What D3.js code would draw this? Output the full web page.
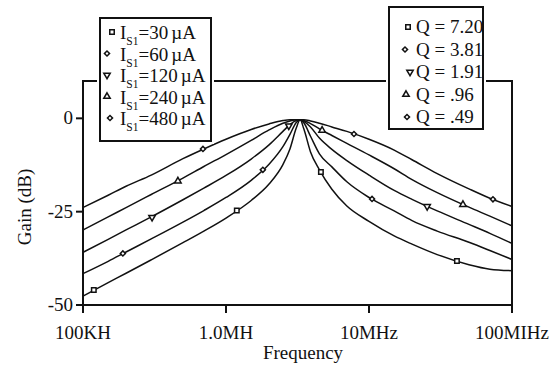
<!DOCTYPE html>
<html>
<head>
<meta charset="utf-8">
<script src="https://cdn.jsdelivr.net/npm/d3@7"></script>
<style>
  html, body { margin: 0; padding: 0; background: #fff; }
  svg { display: block; font-family: 'Liberation Serif', 'Times New Roman', serif; }
</style>
</head>
<body>
<div id="chart"></div>
<script>
// frequency grid (Hz) shared by all curves
const freqHz = [1e5, 1.5e5, 2e5, 3e5, 5e5, 7e5, 1e6, 1.5e6, 2e6, 2.5e6, 2.8e6, 3.1e6, 3.3e6,
  3.5e6, 3.9e6, 4.5e6, 5.5e6, 7e6, 1e7, 1.5e7, 2e7, 3e7, 5e7, 7e7, 1e8];

// gain (dB), one array per Q
const gainQ720 = [-47.6, -44.0, -41.5, -37.9, -33.3, -30.2, -26.7, -22.0, -17.6, -12.4, -8.2, -2.6, -0.4,
  -2.8, -9.0, -13.8, -19.0, -23.5, -27.6, -31.5, -33.7, -36.5, -39.2, -40.4, -40.8];
const gainQ381 = [-41.6, -38.3, -35.8, -32.3, -27.8, -24.7, -21.2, -16.6, -12.3, -7.6, -4.3, -1.1, -0.4,
  -1.2, -4.8, -9.5, -13.0, -17.0, -21.2, -24.8, -27.4, -30.2, -33.2, -35.4, -37.8];
const gainQ191 = [-35.9, -32.4, -29.9, -26.4, -21.8, -18.7, -15.3, -10.9, -7.1, -3.5, -1.7, -0.6, -0.4,
  -0.8, -2.3, -5.3, -8.3, -11.3, -15.2, -19.3, -21.7, -24.8, -28.4, -30.8, -33.5];
const gainQ096 = [-29.9, -26.4, -23.9, -20.4, -16.0, -12.9, -9.7, -5.9, -3.1, -1.3, -0.7, -0.4, -0.4,
  -0.6, -1.4, -2.8, -4.6, -6.7, -9.8, -13.5, -16.4, -19.9, -23.8, -26.2, -28.8];
const gainQ049 = [-23.9, -20.6, -18.2, -15.2, -10.8, -8.2, -5.6, -3.0, -1.5, -0.6, -0.4, -0.4, -0.4,
  -0.4, -0.7, -1.3, -2.3, -3.5, -5.6, -8.5, -11.1, -14.8, -18.9, -21.4, -23.6];

// symbol markers sitting on each curve
const markFreqQ720 = [1.19e5, 1.19e6, 4.61e6, 4.12e7];
const markGainQ720 = [-46.0, -24.7, -14.4, -38.2];
const markFreqQ381 = [1.9e5, 1.81e6, 1.05e7];
const markGainQ381 = [-36.2, -13.8, -21.6];
const markFreqQ191 = [3.04e5, 2.75e6, 2.55e7];
const markGainQ191 = [-26.5, -2.0, -23.6];
const markFreqQ096 = [4.61e5, 4.7e6, 4.54e7];
const markGainQ096 = [-16.8, -3.2, -23.1];
const markFreqQ049 = [6.9e5, 7.85e6, 7.36e7];
const markGainQ049 = [-8.2, -4.2, -21.7];

const qLabels = ['Q = 7.20', 'Q = 3.81', 'Q = 1.91', 'Q = .96', 'Q = .49'];
const currentLabels = ['=30', '=60', '=120', '=240', '=480'];
const markerShapes = ['square', 'diamond', 'triDown', 'triUp', 'diamond'];

const yTicks = [0, -25, -50];
const xTicks = [1e5, 1e6, 1e7, 1e8];
const xTickLabels = ['100KH', '1.0MH', '10MHz', '100MIHz'];

const W = 555, H = 365;
const plot = { left: 83, right: 512, top: 81, bottom: 305 };

const series = [
  { gain: gainQ720, mf: markFreqQ720, mg: markGainQ720 },
  { gain: gainQ381, mf: markFreqQ381, mg: markGainQ381 },
  { gain: gainQ191, mf: markFreqQ191, mg: markGainQ191 },
  { gain: gainQ096, mf: markFreqQ096, mg: markGainQ096 },
  { gain: gainQ049, mf: markFreqQ049, mg: markGainQ049 },
].map((s, i) => ({ ...s, shape: markerShapes[i] }));

const x = d3.scaleLog().domain([1e5, 1e8]).range([plot.left, plot.right]);
const y = d3.scaleLinear().domain([-50, 10]).range([plot.bottom, plot.top]);

const svg = d3.select('#chart').append('svg')
  .attr('width', W).attr('height', H);

const ink = '#111';

// marker symbol helper (diamond = small square turned 45deg)
const symbolPath = (shape) => {
  if (shape === 'square') return d3.symbol(d3.symbolSquare, 20)();
  if (shape === 'diamond') return d3.symbol(d3.symbolSquare, 13)();
  return d3.symbol(d3.symbolTriangle, 18)();
};
const drawMarker = (g, shape, cx, cy) => {
  let rot = '';
  if (shape === 'triDown') rot = ' rotate(180)';
  if (shape === 'diamond') rot = ' rotate(45)';
  g.append('path')
    .attr('d', symbolPath(shape))
    .attr('transform', `translate(${cx},${cy})` + rot)
    .attr('fill', '#fff')
    .attr('stroke', ink)
    .attr('stroke-width', 1.5);
};

// frame
svg.append('rect')
  .attr('x', plot.left).attr('y', plot.top)
  .attr('width', plot.right - plot.left).attr('height', plot.bottom - plot.top)
  .attr('fill', 'none').attr('stroke', ink).attr('stroke-width', 2);

// y ticks
const yAxis = svg.append('g');
yTicks.forEach(t => {
  yAxis.append('line')
    .attr('x1', plot.left - 7).attr('x2', plot.left)
    .attr('y1', y(t)).attr('y2', y(t))
    .attr('stroke', ink).attr('stroke-width', 2);
  yAxis.append('text')
    .attr('x', plot.left - 10).attr('y', y(t)).attr('dy', '0.32em')
    .attr('text-anchor', 'end').style('font-size', '19px').attr('fill', ink)
    .text(t);
});

// x ticks
const xAxis = svg.append('g');
xTicks.forEach((t, i) => {
  xAxis.append('line')
    .attr('x1', x(t)).attr('x2', x(t))
    .attr('y1', plot.bottom).attr('y2', plot.bottom + 8)
    .attr('stroke', ink).attr('stroke-width', 2);
  xAxis.append('text')
    .attr('x', x(t)).attr('y', 339)
    .attr('text-anchor', 'middle').style('font-size', '19px').attr('fill', ink)
    .text(xTickLabels[i]);
});

// axis titles
svg.append('text')
  .attr('x', 303).attr('y', 359)
  .attr('text-anchor', 'middle').style('font-size', '19px').attr('fill', ink)
  .text('Frequency');
svg.append('text')
  .attr('transform', 'translate(31,207) rotate(-90)')
  .attr('text-anchor', 'middle').style('font-size', '19px').attr('fill', ink)
  .text('Gain (dB)');

// curves
const line = d3.line()
  .x(d => x(d[0]))
  .y(d => y(d[1]))
  .curve(d3.curveMonotoneX);

const curves = svg.append('g');
series.forEach(s => {
  curves.append('path')
    .attr('d', line(freqHz.map((f, i) => [f, s.gain[i]])))
    .attr('fill', 'none').attr('stroke', ink).attr('stroke-width', 1.5);
});

const marks = svg.append('g');
series.forEach(s => {
  s.mf.forEach((f, i) => drawMarker(marks, s.shape, x(f), y(s.mg[i])));
});

// legend boxes, white halo cuts the top frame line
const legendBox = (bx, by, bw, bh) => {
  const g = svg.append('g');
  g.append('rect').attr('x', bx - 3).attr('y', by - 3)
    .attr('width', bw + 6).attr('height', bh + 6).attr('fill', '#fff');
  g.append('rect').attr('x', bx).attr('y', by)
    .attr('width', bw).attr('height', bh)
    .attr('fill', '#fff').attr('stroke', ink).attr('stroke-width', 2);
  return g;
};

// left legend: bias currents
const leg1 = legendBox(100, 18, 111, 123);
const leg1MarkX = [112, 107, 107, 107, 110];
currentLabels.forEach((lab, i) => {
  const base = 39 + i * 21.5;
  drawMarker(leg1, markerShapes[i], leg1MarkX[i], base - 7);
  const t = leg1.append('text')
    .attr('x', 120).attr('y', base)
    .style('font-size', '19px').attr('fill', ink);
  t.append('tspan').text('I');
  t.append('tspan').attr('dy', 6).style('font-size', '11.5px').text('S1');
  t.append('tspan').attr('dy', -6).text(lab);
  t.append('tspan').attr('dx', 3).text('µA');
});

// right legend: Q values
const leg2 = legendBox(389, 7, 94, 122);
const leg2MarkX = [408, 405, 410, 406, 407];
qLabels.forEach((lab, i) => {
  const base = 33 + i * 22.5;
  drawMarker(leg2, markerShapes[i], leg2MarkX[i], base - 6);
  leg2.append('text')
    .attr('x', 416).attr('y', base)
    .style('font-size', '19px').attr('fill', ink)
    .text(lab);
});
</script>
</body>
</html>
